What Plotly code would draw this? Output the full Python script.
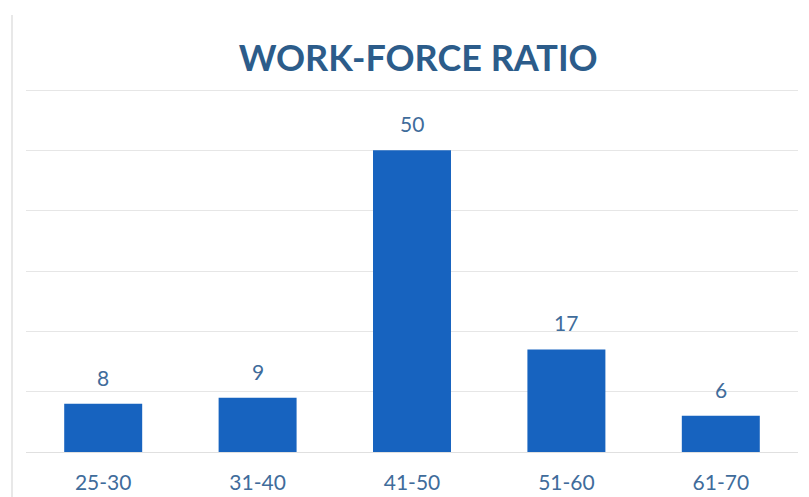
import plotly.graph_objects as go

categories = ["25-30", "31-40", "41-50", "51-60", "61-70"]
values = [8, 9, 50, 17, 6]
title_text = "WORK-FORCE RATIO"

bar_color = "#1763BF"
text_color = "#3F6C9B"

fig = go.Figure()
fig.add_trace(go.Bar(
    x=categories, y=values,
    marker=dict(color=bar_color, line=dict(width=0)),
    hoverinfo="x+y",
))

for c, v in zip(categories, values):
    fig.add_annotation(x=c, y=v, text=str(v), showarrow=False,
                       yanchor="bottom", yshift=12,
                       font=dict(family="Lato", size=21, color=text_color))

# page has an 8px body margin; margins below compensate
L, R, T, B = 18, 19, 79, 53
plot_w = 809 - L - R
plot_h = 497 - T - B

fig.update_layout(
    width=809, height=497,
    margin=dict(l=L, r=R, t=T, b=B),
    paper_bgcolor="white", plot_bgcolor="white",
    bargap=0.495,
    showlegend=False,
    title=dict(text="<b>" + title_text + "</b>", x=0.507, xanchor="center",
               y=1 - 50 / 497, yanchor="middle",
               font=dict(family="Lato", size=36, color="#2C5C8A")),
    xaxis=dict(showgrid=False, showline=False, zeroline=False,
               ticks="outside", ticklen=12, tickcolor="rgba(0,0,0,0)",
               tickfont=dict(family="Lato", size=21, color=text_color)),
    yaxis=dict(range=[0, 60.5], tickvals=[0, 10, 20, 30, 40, 50, 60],
               showticklabels=False,
               showgrid=True, gridcolor="#E6E6E6", gridwidth=1,
               zeroline=True, zerolinecolor="#E0E0E0", zerolinewidth=1),
    shapes=[
        dict(type="line", xref="paper", yref="paper",
             x0=-14 / plot_w, x1=-14 / plot_w,
             y0=-B / plot_h, y1=(497 - 7 - B) / plot_h,
             line=dict(color="#E8E8E8", width=2)),
    ],
)

fig.write_html("out.html")
